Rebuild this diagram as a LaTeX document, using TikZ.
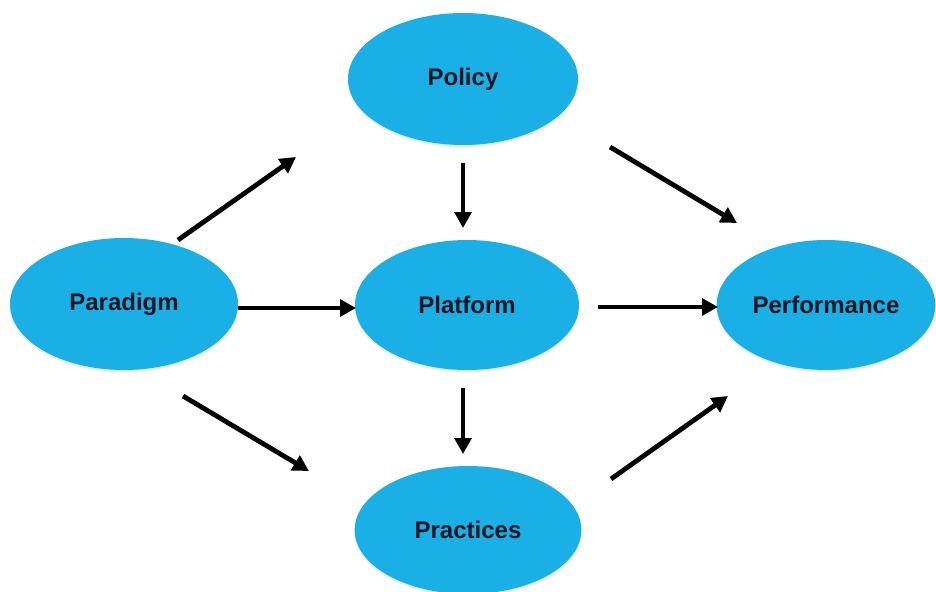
\documentclass[tikz,border=0pt]{standalone}
\usepackage{fontspec}
\setmainfont{Liberation Sans}
\usetikzlibrary{shapes.geometric,arrows.meta,shadows,fadings}
\definecolor{ellblue}{RGB}{27,176,229}
\definecolor{ellrim}{RGB}{12,150,210}
\definecolor{txtcol}{RGB}{12,22,35}
\tikzset{
  oval/.style={ellipse, fill=ellblue, inner sep=0pt,
    font=\fontsize{18pt}{20pt}\selectfont\bfseries, text=txtcol,
    drop shadow={opacity=0.18, shadow xshift=0pt, shadow yshift=-1.5pt}},
  arr/.style={line width=3.6pt, -{Triangle[length=12pt,width=12.5pt]}, black}
}
\begin{document}
\begin{tikzpicture}[x=0.75pt,y=-0.75pt]
\useasboundingbox (0,0) rectangle (936,592);
\node[oval, minimum width=172.5pt, minimum height=99pt] (policy) at (463,79) {Policy};
\node[oval, minimum width=171pt, minimum height=99pt] (paradigm) at (124,304) {Paradigm};
\node[oval, minimum width=168pt, minimum height=97.5pt] (platform) at (467,305) {Platform};
\node[oval, minimum width=164pt, minimum height=97.5pt] (performance) at (826,305) {Performance};
\node[oval, minimum width=170pt, minimum height=96pt] (practices) at (468,530) {Practices};
% arrow end points
\coordinate (a1s) at (178,240); \coordinate (a1e) at (296,157);
\coordinate (a2s) at (238,308); \coordinate (a2e) at (356,308);
\coordinate (a3s) at (183,396); \coordinate (a3e) at (309,471);
\coordinate (a4s) at (463,163); \coordinate (a4e) at (463,228);
\coordinate (a5s) at (463,388); \coordinate (a5e) at (463,454);
\coordinate (a6s) at (610,147); \coordinate (a6e) at (737,223);
\coordinate (a7s) at (598,307); \coordinate (a7e) at (718,307);
\coordinate (a8s) at (611,479); \coordinate (a8e) at (728,396);
\draw[arr] (a1s) -- (a1e);
\draw[arr] (a2s) -- (a2e);
\draw[arr] (a3s) -- (a3e);
\draw[arr] (a4s) -- (a4e);
\draw[arr] (a5s) -- (a5e);
\draw[arr] (a6s) -- (a6e);
\draw[arr] (a7s) -- (a7e);
\draw[arr] (a8s) -- (a8e);
\end{tikzpicture}
\end{document}
